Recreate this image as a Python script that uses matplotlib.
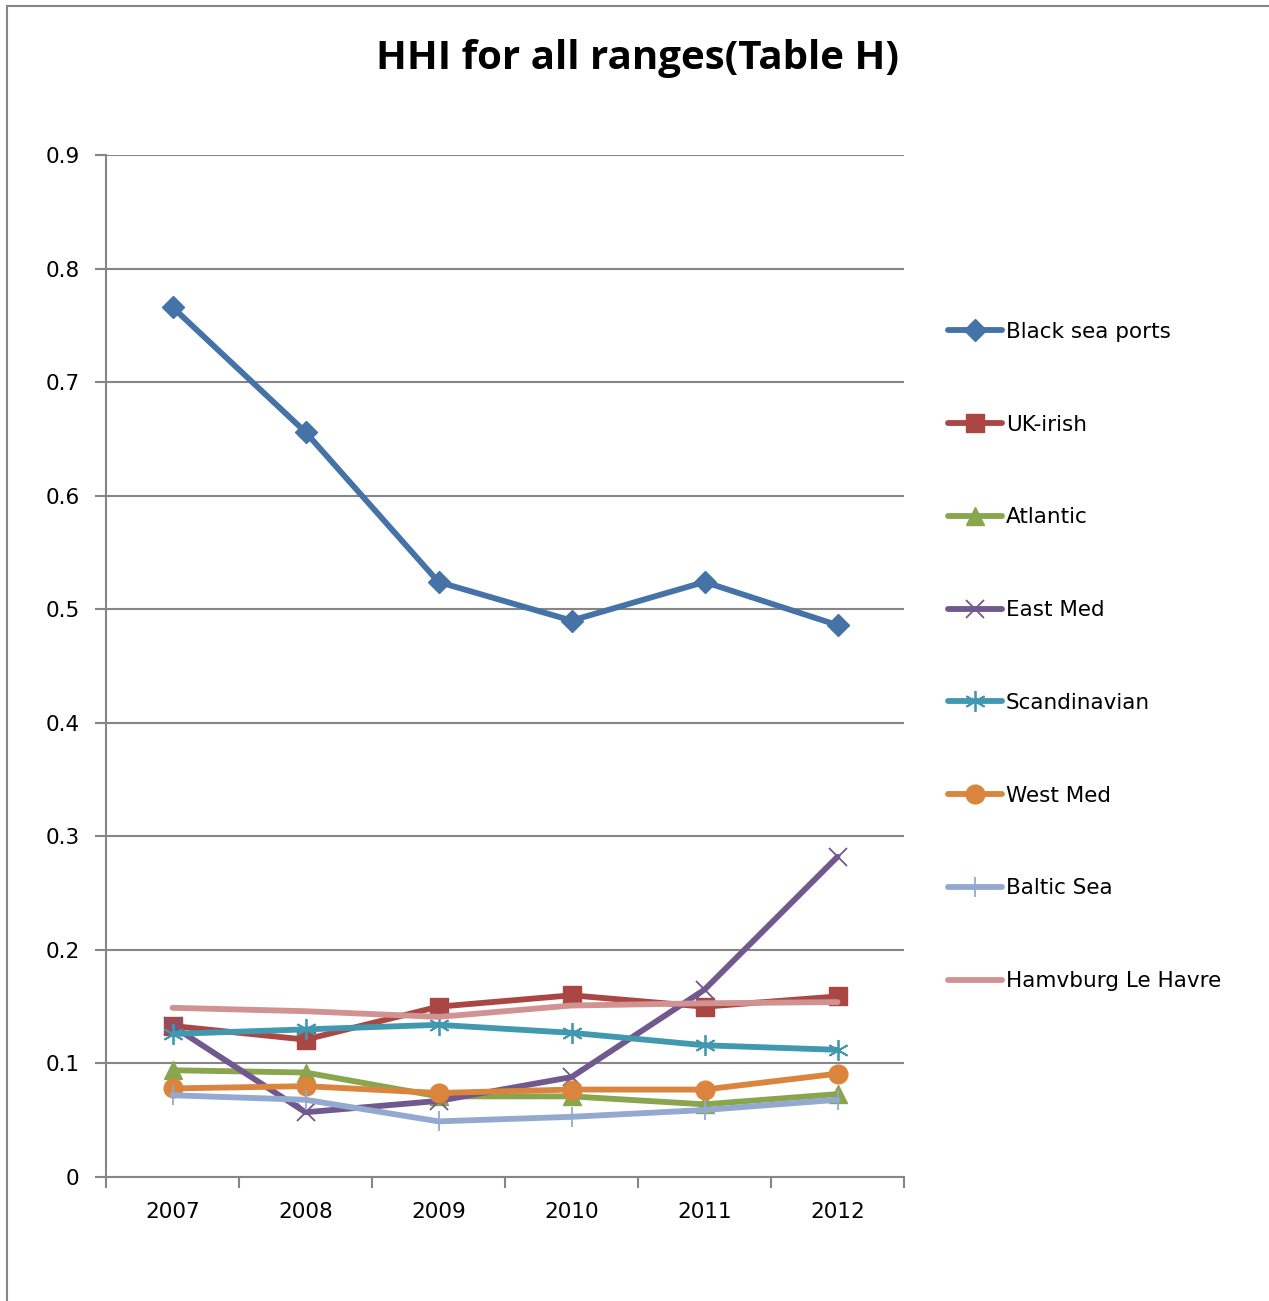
import matplotlib
matplotlib.use("Agg")
import matplotlib.pyplot as plt
from matplotlib.patches import Rectangle
import numpy as np

years = ["2007", "2008", "2009", "2010", "2011", "2012"]

black_sea = [0.766, 0.656, 0.524, 0.490, 0.524, 0.486]
uk_irish = [0.133, 0.121, 0.150, 0.160, 0.150, 0.159]
atlantic = [0.094, 0.092, 0.071, 0.071, 0.064, 0.073]
east_med = [0.133, 0.057, 0.067, 0.088, 0.165, 0.282]
scandinavian = [0.126, 0.130, 0.134, 0.127, 0.116, 0.112]
west_med = [0.078, 0.080, 0.074, 0.077, 0.077, 0.091]
baltic = [0.072, 0.068, 0.049, 0.053, 0.059, 0.068]
hamburg = [0.149, 0.146, 0.141, 0.151, 0.153, 0.154]

series = [
    ("Black sea ports", black_sea, "#4572A7", "D", 11, {}),
    ("UK-irish", uk_irish, "#AA4643", "s", 12.5, {}),
    ("Atlantic", atlantic, "#89A54E", "^", 12.5, {}),
    ("East Med", east_med, "#71588F", "x", 13, {"markeredgewidth": 1.3}),
    ("Scandinavian", scandinavian, "#4198AF", (6, 2, 0), 15, {"markeredgewidth": 1.3}),
    ("West Med", west_med, "#DB843D", "o", 13.5, {}),
    ("Baltic Sea", baltic, "#93A9CF", "|", 15, {"markeredgewidth": 1.3}),
    ("Hamvburg Le Havre", hamburg, "#D19392", None, 0, {}),
]

W, H = 1269, 1301
fig = plt.figure(figsize=(W / 100, H / 100), dpi=100)
fig.patch.set_facecolor("white")

# outer chart frame
fig.patches.append(Rectangle((7 / W, -0.1), 1.2, 1 - 6 / H + 0.1,
                             transform=fig.transFigure, fill=False,
                             edgecolor="#868686", linewidth=1.5))

left, right, top, bottom = 106, 904, 155, 1177
ax = fig.add_axes([left / W, 1 - bottom / H, (right - left) / W, (bottom - top) / H])

x = np.arange(len(years))
for name, vals, col, mk, ms, extra in series:
    ax.plot(x, vals, color=col, linewidth=4.2, marker=mk, markersize=ms,
            markerfacecolor=col, markeredgecolor=col, label=name,
            solid_capstyle="round", solid_joinstyle="round", **extra)

ax.set_xlim(-0.5, len(years) - 0.5)
ax.set_ylim(0, 0.9)
ax.set_yticks(np.arange(0, 0.91, 0.1))
ax.set_yticklabels(["0"] + [f"{v:.1f}" for v in np.arange(0.1, 0.91, 0.1)])
ax.set_xticks(x)
ax.set_xticklabels(years)
ax.set_xticks(np.arange(-0.5, len(years)), minor=True)
ax.tick_params(axis="x", which="major", length=0, pad=18, labelsize=15.5)
ax.tick_params(axis="x", which="minor", length=8, width=1.5, color="#868686")
ax.tick_params(axis="y", length=8, width=1.5, color="#868686", pad=11, labelsize=15.5)

ax.grid(axis="y", color="#868686", linewidth=1.5)
ax.set_axisbelow(True)
for s in ["top", "right"]:
    ax.spines[s].set_visible(False)
for s in ["left", "bottom"]:
    ax.spines[s].set_color("#868686")
    ax.spines[s].set_linewidth(1.5)

fig.text(638 / W, 1 - 59 / H, "HHI for all ranges(Table H)", ha="center", va="center",
         fontsize=29, fontweight="bold", family="Open Sans")

leg = ax.legend(loc="upper left", bbox_to_anchor=(937 / W, 1 - 311 / H),
                bbox_transform=fig.transFigure, frameon=False, fontsize=15.5,
                handlelength=2.5, handletextpad=0.2, labelspacing=3.38,
                borderpad=0)

fig.savefig("out.png", dpi=100)
